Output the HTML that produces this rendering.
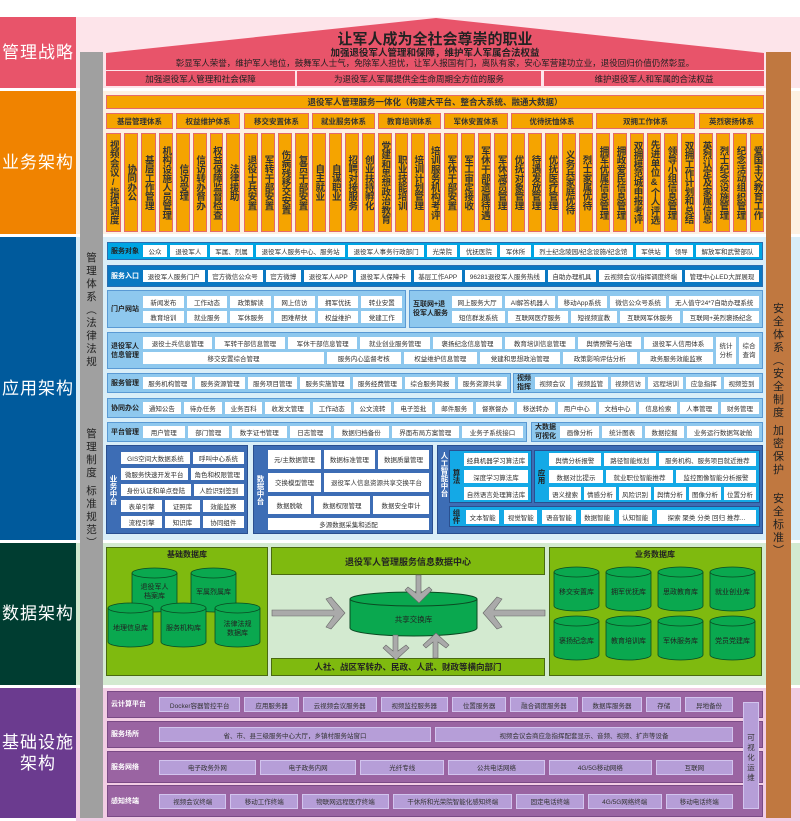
<!DOCTYPE html>
<html><head><meta charset="utf-8">
<style>
*{box-sizing:border-box;margin:0;padding:0}
body{width:800px;height:821px;position:relative;background:#fff;font-family:"Liberation Sans","Noto Sans CJK SC",sans-serif;overflow:hidden;color:#222}
.a{position:absolute}
.lab{position:absolute;left:0;width:76px;color:#fff;font-size:17px;display:flex;align-items:center;justify-content:center;text-align:center;line-height:1.25;letter-spacing:1px}
.g{position:absolute;top:113px;height:120px}
.gh{height:16px;background:#f5a400;border:1px solid #e46a6a;font-size:7.5px;font-weight:bold;display:flex;align-items:center;justify-content:center;color:#333}
.gc{display:flex;gap:3px;margin-top:4px;height:99px}
.c{flex:1;background:#f5a400;border:1px solid #e46a6a;writing-mode:vertical-rl;text-orientation:upright;font-size:9.5px;line-height:11px;display:flex;align-items:center;justify-content:center;font-weight:bold;color:#333;letter-spacing:-0.3px;overflow:hidden}
.r{position:absolute;display:flex;align-items:center;gap:3px;padding:0 3px;border:1px solid #2a6db0}
.l{font-size:7px;font-weight:bold;white-space:nowrap;padding-right:1px;line-height:9px}
.i{background:#fff;flex:1 1 auto;font-size:6.5px;text-align:center;display:flex;align-items:center;justify-content:center;white-space:nowrap;color:#333;height:12px}
.col{display:flex;flex-direction:column;gap:3px;flex:1}
.rw{display:flex;gap:3px}
.vt{writing-mode:vertical-rl;text-orientation:upright;font-size:7.5px;font-weight:bold;line-height:9px}
.p{position:absolute;display:flex;align-items:center;padding:0 3px;gap:4px;background:#9a64a2;border:1px solid #7a4a86}
.p .l{color:#fff;width:44px;font-size:7px}
.p .i{background:#b69ed8;border:1px solid #d2c4ee;height:15px;color:#333}
</style></head><body>

<div class="lab" style="top:17px;height:71px;background:#e8546a">管理战略</div>
<div class="lab" style="top:91px;height:143px;background:#f08300">业务架构</div>
<div class="lab" style="top:237px;height:303px;background:#005a9c">应用架构</div>
<div class="lab" style="top:543px;height:142px;background:#003d31">数据架构</div>
<div class="lab" style="top:688px;height:130px;background:#6b3b8f">基础设施<br>架构</div>

<div class="a" style="left:76px;top:17px;width:724px;height:71px;background:#fde4ea"></div>
<div class="a" style="left:76px;top:91px;width:724px;height:143px;background:#fdf1e2"></div>
<div class="a" style="left:76px;top:237px;width:724px;height:303px;background:#d9eef8"></div>
<div class="a" style="left:76px;top:543px;width:724px;height:142px;background:#d3ead0"></div>
<div class="a" style="left:76px;top:688px;width:724px;height:133px;background:#f2cde4"></div>

<div class="a" style="left:80px;top:52px;width:23px;height:766px;background:#a0a0a0"></div>
<div class="a" style="left:766px;top:52px;width:25px;height:766px;background:#c07840"></div>
<div class="a" style="left:85px;top:252px;width:13px;font-size:10.5px;line-height:13px;text-align:center">管<br>理<br>体<br>系<br>︵<br>法<br>律<br>法<br>规</div>
<div class="a" style="left:85px;top:428px;width:13px;font-size:10.5px;line-height:13px;text-align:center">管<br>理<br>制<br>度</div>
<div class="a" style="left:85px;top:485px;width:13px;font-size:10.5px;line-height:13px;text-align:center">标<br>准<br>规<br>范<br>︶</div>
<div class="a" style="left:771px;top:303px;width:15px;font-size:11px;line-height:13px;text-align:center">安<br>全<br>体<br>系<br>︵<br>安<br>全<br>制<br>度</div>
<div class="a" style="left:771px;top:425px;width:15px;font-size:11px;line-height:13px;text-align:center">加<br>密<br>保<br>护</div>
<div class="a" style="left:771px;top:493px;width:15px;font-size:11px;line-height:13px;text-align:center">安<br>全<br>标<br>准<br>︶</div>

<svg class="a" style="left:0;top:0" width="800" height="90"><polygon points="106,53 436,18 764,53 764,70 106,70" fill="#e8546a"/></svg>
<div class="a" style="left:106px;top:28px;width:658px;text-align:center;font-size:15px;font-weight:bold;color:#222">让军人成为全社会尊崇的职业</div>
<div class="a" style="left:106px;top:45px;width:658px;text-align:center;font-size:9.5px;font-weight:bold;color:#222">加强退役军人管理和保障，维护军人军属合法权益</div>
<div class="a" style="left:106px;top:57px;width:658px;text-align:center;font-size:8.5px;color:#222">彰显军人荣誉，维护军人地位，鼓舞军人士气，免除军人担忧，让军人报国有门，离队有家，安心军营建功立业，退役回归价值仍然彰显。</div>
<div class="a" style="left:106px;top:71px;width:189px;height:15px;background:#e8546a;font-size:8.5px;display:flex;align-items:center;justify-content:center">加强退役军人管理和社会保障</div>
<div class="a" style="left:297px;top:71px;width:244px;height:15px;background:#e8546a;font-size:8.5px;display:flex;align-items:center;justify-content:center">为退役军人军属提供全生命周期全方位的服务</div>
<div class="a" style="left:544px;top:71px;width:220px;height:15px;background:#e8546a;font-size:8.5px;display:flex;align-items:center;justify-content:center">维护退役军人和军属的合法权益</div>

<div class="a" style="left:106px;top:95px;width:658px;height:14px;background:#f5a400;border:1px solid #e46a6a;font-size:8.5px;font-weight:bold;display:flex;align-items:center;justify-content:center;color:#333">退役军人管理服务一体化（构建大平台、整合大系统、融通大数据）</div>
<div class="g" style="left:106px;width:67px"><div class="gh">基层管理体系</div><div class="gc"><div class="c">视频会议/指挥调度</div><div class="c">协同办公</div><div class="c">基层工作管理</div><div class="c">机构设施人员管理</div></div></div>
<div class="g" style="left:176px;width:64px"><div class="gh">权益维护体系</div><div class="gc"><div class="c">信访受理</div><div class="c">信访转办督办</div><div class="c">权益保障监督检查</div><div class="c">法律援助</div></div></div>
<div class="g" style="left:244px;width:65px"><div class="gh">移交安置体系</div><div class="gc"><div class="c">退役士兵安置</div><div class="c">军转干部安置</div><div class="c">伤病残移交安置</div><div class="c">复员干部安置</div></div></div>
<div class="g" style="left:312px;width:63px"><div class="gh">就业服务体系</div><div class="gc"><div class="c">自主就业</div><div class="c">自谋职业</div><div class="c">招聘对接服务</div><div class="c">创业扶持孵化</div></div></div>
<div class="g" style="left:378px;width:63px"><div class="gh">教育培训体系</div><div class="gc"><div class="c">党建和思想政治教育</div><div class="c">职业技能培训</div><div class="c">培训计划管理</div><div class="c">培训服务机构考评</div></div></div>
<div class="g" style="left:444px;width:64px"><div class="gh">军休安置体系</div><div class="gc"><div class="c">军休干部安置</div><div class="c">军工审定接收</div><div class="c">军休干部遗属待遇</div><div class="c">军休减员管理</div></div></div>
<div class="g" style="left:511px;width:82px"><div class="gh">优待抚恤体系</div><div class="gc"><div class="c">优抚对象管理</div><div class="c">待遇发放管理</div><div class="c">优抚医疗管理</div><div class="c">义务兵家庭优待</div><div class="c">烈士家属优待</div></div></div>
<div class="g" style="left:596px;width:99px"><div class="gh">双拥工作体系</div><div class="gc"><div class="c">拥军优属信息管理</div><div class="c">拥政爱民信息管理</div><div class="c">双拥模范城申报考评</div><div class="c">先进单位&amp;个人评选</div><div class="c">领导小组信息管理</div><div class="c">双拥工作计划和总结</div></div></div>
<div class="g" style="left:699px;width:65px"><div class="gh">英烈褒扬体系</div><div class="gc"><div class="c">英烈认定及家属信息</div><div class="c">烈士纪念设施管理</div><div class="c">纪念活动组织管理</div><div class="c">爱国主义教育工作</div></div></div>

<div class="r" style="left:107px;top:242px;width:656px;height:18px;background:#00a5e3"><span class="l">服务对象</span><span class="i">公众</span><span class="i">退役军人</span><span class="i">军属、烈属</span><span class="i">退役军人服务中心、服务站</span><span class="i">退役军人事务行政部门</span><span class="i">光荣院</span><span class="i">优抚医院</span><span class="i">军休所</span><span class="i">烈士纪念陵园/纪念设施/纪念馆</span><span class="i">军供站</span><span class="i">领导</span><span class="i">解放军和武警部队</span></div>
<div class="r" style="left:107px;top:265px;width:656px;height:22px;background:#0a78c2"><span class="l" style="color:#fff">服务入口</span><span class="i">退役军人服务门户</span><span class="i">官方微信公众号</span><span class="i">官方微博</span><span class="i">退役军人APP</span><span class="i">退役军人保障卡</span><span class="i">基层工作APP</span><span class="i">96281退役军人服务热线</span><span class="i">自助办理机具</span><span class="i">云视频会议/指挥调度终端</span><span class="i">管理中心LED大屏展现</span></div>
<div class="r" style="left:107px;top:290px;width:299px;height:38px;background:#8ec8ee;border-color:#5a9ad4"><span class="l">门户网站</span><div class="col"><div class="rw"><span class="i">新闻发布</span><span class="i">工作动态</span><span class="i">政策解读</span><span class="i">网上信访</span><span class="i">拥军优抚</span><span class="i">转业安置</span></div><div class="rw"><span class="i">教育培训</span><span class="i">就业服务</span><span class="i">军休服务</span><span class="i">困难帮扶</span><span class="i">权益维护</span><span class="i">党建工作</span></div></div></div>
<div class="r" style="left:409px;top:290px;width:354px;height:38px;background:#8ec8ee;border-color:#5a9ad4"><span class="l">互联网+退<br>役军人服务</span><div class="col"><div class="rw"><span class="i">网上服务大厅</span><span class="i">AI解答机器人</span><span class="i">移动App系统</span><span class="i">微信公众号系统</span><span class="i">无人值守24*7自助办理系统</span></div><div class="rw"><span class="i">短信群发系统</span><span class="i">互联网医疗服务</span><span class="i">短视频宣教</span><span class="i">互联网军休服务</span><span class="i">互联网+英烈褒扬纪念</span></div></div></div>
<div class="r" style="left:107px;top:332px;width:656px;height:37px;background:#8ec8ee;border-color:#5a9ad4"><span class="l">退役军人<br>信息管理</span><div class="col"><div class="rw"><span class="i">退役士兵信息管理</span><span class="i">军转干部信息管理</span><span class="i">军休干部信息管理</span><span class="i">就业创业服务管理</span><span class="i">褒扬纪念信息管理</span><span class="i">教育培训信息管理</span><span class="i">舆情预警与治理</span><span class="i">退役军人信用体系</span></div><div class="rw"><span class="i" style="flex-grow:6">移交安置综合管理</span><span class="i">服务内心监督考核</span><span class="i">权益维护信息管理</span><span class="i">党建和思想政治管理</span><span class="i">政策影响评估分析</span><span class="i">政务服务效能监察</span></div></div><span class="i" style="height:27px;flex:0 0 20px;line-height:9px;white-space:normal">统计<br>分析</span><span class="i" style="height:27px;flex:0 0 20px;line-height:9px;white-space:normal">综合<br>查询</span></div>
<div class="r" style="left:107px;top:373px;width:404px;height:20px;background:#8ec8ee;border-color:#5a9ad4"><span class="l">服务管理</span><span class="i">服务机构管理</span><span class="i">服务资源管理</span><span class="i">服务项目管理</span><span class="i">服务实施管理</span><span class="i">服务经费管理</span><span class="i">综合服务简报</span><span class="i">服务资源共享</span></div>
<div class="r" style="left:513px;top:373px;width:250px;height:20px;background:#8ec8ee;border-color:#5a9ad4"><span class="l">视频<br>指挥</span><span class="i">视频会议</span><span class="i">视频监管</span><span class="i">视频信访</span><span class="i">远程培训</span><span class="i">应急指挥</span><span class="i">视频签到</span></div>
<div class="r" style="left:107px;top:398px;width:656px;height:20px;background:#8ec8ee;border-color:#5a9ad4"><span class="l">协同办公</span><span class="i">通知公告</span><span class="i">待办任务</span><span class="i">业务百科</span><span class="i">收发文管理</span><span class="i">工作动态</span><span class="i">公文流转</span><span class="i">电子签批</span><span class="i">邮件服务</span><span class="i">督察督办</span><span class="i">移送转办</span><span class="i">用户中心</span><span class="i">文档中心</span><span class="i">信息检索</span><span class="i">人事管理</span><span class="i">财务管理</span></div>
<div class="r" style="left:107px;top:422px;width:420px;height:20px;background:#8ec8ee;border-color:#5a9ad4"><span class="l">平台管理</span><span class="i">用户管理</span><span class="i">部门管理</span><span class="i">数字证书管理</span><span class="i">日志管理</span><span class="i">数据归档备份</span><span class="i">界面布局方案管理</span><span class="i">业务子系统接口</span></div>
<div class="r" style="left:531px;top:422px;width:232px;height:20px;background:#8ec8ee;border-color:#5a9ad4"><span class="l">大数据<br>可视化</span><span class="i">画像分析</span><span class="i">统计图表</span><span class="i">数据挖掘</span><span class="i">业务运行数据驾驶舱</span></div>

<div class="r" style="left:106px;top:445px;width:142px;height:89px;background:#3d6db5;border-color:#2a4f90;align-items:center"><span class="vt" style="color:#fff;width:8px">业务中台</span><div class="col" style="gap:4px"><div class="rw"><span class="i">GIS空间大数据系统</span><span class="i">呼叫中心系统</span></div><div class="rw"><span class="i">微服务快速开发平台</span><span class="i">角色和权限管理</span></div><div class="rw"><span class="i">身份认证和单点登陆</span><span class="i">人脸识别签到</span></div><div class="rw"><span class="i">表单引擎</span><span class="i">证照库</span><span class="i">效能监察</span></div><div class="rw"><span class="i">流程引擎</span><span class="i">知识库</span><span class="i">协同组件</span></div></div></div>
<div class="r" style="left:253px;top:445px;width:180px;height:89px;background:#3d6db5;border-color:#2a4f90"><span class="vt" style="color:#fff;width:8px">数据中台</span><div class="col" style="gap:4px"><div class="rw"><span class="i" style="height:19px">元/主数据管理</span><span class="i" style="height:19px">数据标准管理</span><span class="i" style="height:19px">数据质量管理</span></div><div class="rw"><span class="i" style="height:19px">交换模型管理</span><span class="i" style="height:19px">退役军人信息资源共享交换平台</span></div><div class="rw"><span class="i" style="height:18px">数据脱敏</span><span class="i" style="height:18px">数据权限管理</span><span class="i" style="height:18px">数据安全审计</span></div><div class="rw"><span class="i">多源数据采集和适配</span></div></div></div>
<div class="a" style="left:437px;top:445px;width:326px;height:89px;background:#3d6db5;border:1px solid #2a4f90"></div>
<div class="a vt" style="left:440px;top:452px;color:#fff;font-size:7.5px;line-height:9px">人工智能中台</div>
<div class="r" style="left:449px;top:450px;width:83px;height:53px;background:#14a9e6;border-color:#2a4f90"><span class="vt" style="width:8px">算法</span><div class="col" style="gap:4px"><span class="i" style="height:13px">经典机器学习算法库</span><span class="i" style="height:13px">深度学习算法库</span><span class="i" style="height:13px">自然语言处理算法库</span></div></div>
<div class="r" style="left:534px;top:450px;width:226px;height:53px;background:#14a9e6;border-color:#2a4f90"><span class="vt" style="width:8px">应用</span><div class="col" style="gap:4px"><div class="rw"><span class="i" style="height:13px">舆情分析报警</span><span class="i" style="height:13px">路径智能规划</span><span class="i" style="height:13px">服务机构、服务项目就近推荐</span></div><div class="rw"><span class="i" style="height:13px">数据对比提示</span><span class="i" style="height:13px">就业职位智能推荐</span><span class="i" style="height:13px">监控图像智能分析报警</span></div><div class="rw"><span class="i" style="height:13px">语义搜索</span><span class="i" style="height:13px">情感分析</span><span class="i" style="height:13px">风险识别</span><span class="i" style="height:13px">舆情分析</span><span class="i" style="height:13px">图像分析</span><span class="i" style="height:13px">位置分析</span></div></div></div>
<div class="r" style="left:449px;top:506px;width:311px;height:21px;background:#14a9e6;border-color:#2a4f90;gap:5px"><span class="vt" style="width:8px">组件</span><span class="i" style="height:14px">文本智能</span><span class="i" style="height:14px">视觉智能</span><span class="i" style="height:14px">语音智能</span><span class="i" style="height:14px">数据智能</span><span class="i" style="height:14px">认知智能</span><span class="i" style="height:14px;flex-grow:3">探索 聚类 分类 回归 推荐...</span></div>

<svg class="a" style="left:0;top:0" width="800" height="821" font-family="Liberation Sans, Noto Sans CJK SC, sans-serif">
<defs>
<g id="cy"><path d="M0,5 V39 A22.5,5 0 0 0 45,39 V5" fill="#0aa84f" stroke="#0a4a22" stroke-width="0.8"/><ellipse cx="22.5" cy="5" rx="22.5" ry="5" fill="#0aa84f" stroke="#0a4a22" stroke-width="0.8"/></g>
</defs>
<rect x="106.5" y="547.5" width="161" height="128" fill="#7fba0f" stroke="#4a6a10"/>
<text x="187" y="557" font-size="8" font-weight="bold" text-anchor="middle" fill="#222">基础数据库</text>
<use href="#cy" x="132" y="568"/><use href="#cy" x="191" y="568"/>
<use href="#cy" x="108" y="603"/><use href="#cy" x="161" y="603"/><use href="#cy" x="215" y="603"/>
<g font-size="7" text-anchor="middle" fill="#222">
<text x="154.5" y="589">退役军人</text><text x="154.5" y="598">档案库</text>
<text x="213.5" y="594">军属烈属库</text>
<text x="130.5" y="630">地理信息库</text><text x="183.5" y="630">服务机构库</text>
<text x="237.5" y="626">法律法规</text><text x="237.5" y="635">数据库</text>
</g>
<rect x="549.5" y="547.5" width="212" height="128" fill="#7fba0f" stroke="#4a6a10"/>
<text x="655" y="557" font-size="8" font-weight="bold" text-anchor="middle" fill="#222">业务数据库</text>
<use href="#cy" x="554" y="567"/><use href="#cy" x="606" y="567"/><use href="#cy" x="658" y="567"/><use href="#cy" x="710" y="567"/>
<use href="#cy" x="554" y="616"/><use href="#cy" x="606" y="616"/><use href="#cy" x="658" y="616"/><use href="#cy" x="710" y="616"/>
<g font-size="7" text-anchor="middle" fill="#222">
<text x="576.5" y="594">移交安置库</text><text x="628.5" y="594">拥军优抚库</text><text x="680.5" y="594">思政教育库</text><text x="732.5" y="594">就业创业库</text>
<text x="576.5" y="643">褒扬纪念库</text><text x="628.5" y="643">教育培训库</text><text x="680.5" y="643">军休服务库</text><text x="732.5" y="643">党员党建库</text>
</g>
<rect x="271.5" y="547.5" width="273" height="27" fill="#7fba0f" stroke="#4a6a10"/>
<text x="408" y="565" font-size="9" font-weight="bold" text-anchor="middle" fill="#222">退役军人管理服务信息数据中心</text>
<rect x="271.5" y="658.5" width="273" height="17" fill="#7fba0f" stroke="#4a6a10"/>
<text x="408" y="670" font-size="8.5" font-weight="bold" text-anchor="middle" fill="#222">人社、战区军转办、民政、人武、财政等横向部门</text>
<path d="M350,599 V628 A63.5,8 0 0 0 477,628 V599" fill="#0aa84f" stroke="#0a4a22"/>
<ellipse cx="413.5" cy="599" rx="63.5" ry="7" fill="#0aa84f" stroke="#0a4a22"/>
<text x="413.5" y="622" font-size="7.5" text-anchor="middle" fill="#222">共享交换库</text>
<g stroke="#666" stroke-width="0.6" fill="#aaa">
<polygon points="272,610 334,610 326,599 331,597 345,613 331,629 326,627 334,616 272,616"/>
<polygon points="545,610 494,610 502,599 497,597 483,613 497,629 502,627 494,616 545,616"/>
<polygon points="416,575 416,593 408,587 405,590 419,603 432,590 429,587 421,593 421,575"/>
<polygon points="393,635 393,651 386,645 383,648 396,660 409,648 406,645 398,651 398,635"/>
<polygon points="433,658 433,642 426,648 423,645 436,633 449,645 446,648 438,642 438,658"/>
</g>
</svg>

<div class="p" style="left:107px;top:691px;width:656px;height:27px"><span class="l">云计算平台</span><span class="i">Docker容器管控平台</span><span class="i">应用服务器</span><span class="i">云视频会议服务器</span><span class="i">视频监控服务器</span><span class="i">位置服务器</span><span class="i">融合调度服务器</span><span class="i">数据库服务器</span><span class="i">存储</span><span class="i">异地备份</span><span style="width:22px;flex:none"></span></div>
<div class="p" style="left:107px;top:721px;width:656px;height:27px"><span class="l">服务场所</span><span class="i">省、市、县三级服务中心大厅，乡镇村服务站窗口</span><span class="i">视频会议会商应急指挥配套显示、音频、视频、扩声等设备</span><span style="width:22px;flex:none"></span></div>
<div class="p" style="left:107px;top:751px;width:656px;height:32px"><span class="l">服务网络</span><span class="i">电子政务外网</span><span class="i">电子政务内网</span><span class="i">光纤专线</span><span class="i">公共电话网络</span><span class="i">4G/5G移动网络</span><span class="i">互联网</span><span style="width:22px;flex:none"></span></div>
<div class="p" style="left:107px;top:785px;width:656px;height:32px"><span class="l">感知终端</span><span class="i">视频会议终端</span><span class="i">移动工作终端</span><span class="i">物联网远程医疗终端</span><span class="i">干休所和光荣院智能化感知终端</span><span class="i">固定电话终端</span><span class="i">4G/5G网络终端</span><span class="i">移动电话终端</span><span style="width:22px;flex:none"></span></div>
<div class="a" style="left:743px;top:702px;width:16px;height:107px;background:#b69ed8;border:1px solid #d2c4ee;font-size:7.5px;line-height:10px;text-align:center;padding-top:30px;color:#333">可<br>视<br>化<br>运<br>维</div>
</body></html>
